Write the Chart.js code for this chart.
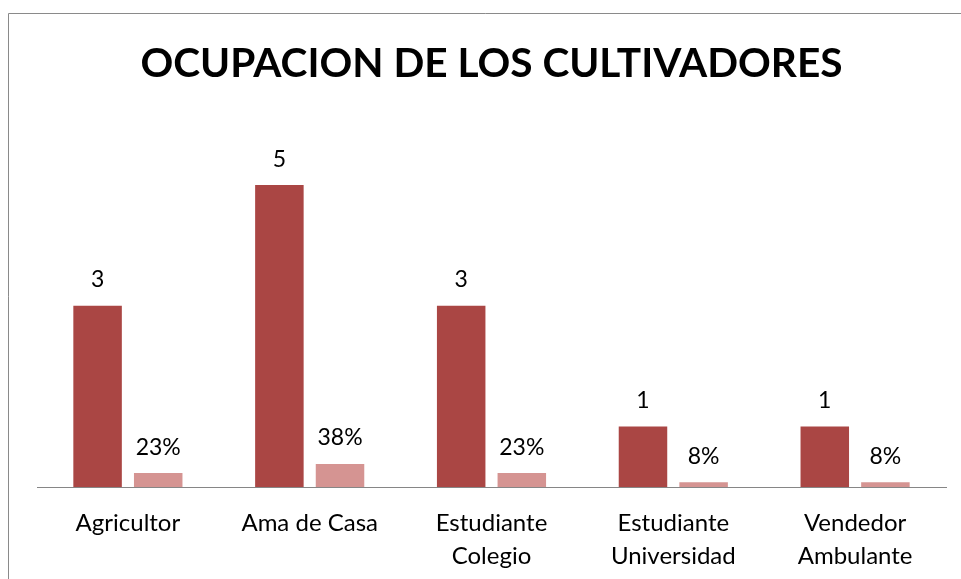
<!DOCTYPE html>
<html>
<head>
<meta charset="utf-8">
<script src="https://cdn.jsdelivr.net/npm/chart.js@4.4.1/dist/chart.umd.min.js"></script>
<style>
html,body{margin:0;padding:0;background:#fff;}
#wrap{position:relative;width:961px;height:579px;}
canvas{display:block;}
</style>
</head>
<body>
<div id="wrap"><canvas id="c" width="961" height="579"></canvas></div>
<script>
const categories = [['Agricultor'], ['Ama de Casa'], ['Estudiante', 'Colegio'], ['Estudiante', 'Universidad'], ['Vendedor', 'Ambulante']];
const counts = [3, 5, 3, 1, 1];
const percents = [0.23, 0.38, 0.23, 0.08, 0.08];
const percentLabels = ['23%', '38%', '23%', '8%', '8%'];
const titleText = 'OCUPACION DE LOS CULTIVADORES';

const FONT = 'Lato, "Open Sans", sans-serif';

const frame = {
  id: 'frame',
  beforeDraw(chart) {
    const ctx = chart.ctx;
    ctx.save();
    ctx.strokeStyle = '#8a8a8a';
    ctx.lineWidth = 1;
    ctx.beginPath();
    ctx.moveTo(8.5, 600);
    ctx.lineTo(8.5, 13.5);
    ctx.lineTo(970, 13.5);
    ctx.stroke();
    ctx.restore();
  }
};

const valueLabels = {
  id: 'valueLabels',
  afterDatasetsDraw(chart) {
    const ctx = chart.ctx;
    ctx.save();
    ctx.font = '23px ' + FONT;
    ctx.fillStyle = '#000';
    ctx.textAlign = 'center';
    ctx.textBaseline = 'middle';
    chart.data.datasets.forEach((ds, di) => {
      const meta = chart.getDatasetMeta(di);
      meta.data.forEach((el, i) => {
        const txt = di === 0 ? String(counts[i]) : percentLabels[i];
        ctx.fillText(txt, el.x, el.y - 26);
      });
    });
    ctx.restore();
  }
};

new Chart(document.getElementById('c'), {
  type: 'bar',
  data: {
    labels: categories,
    datasets: [
      { label: 'Cantidad', data: counts, backgroundColor: '#AA4644', barPercentage: 0.8, categoryPercentage: 0.667 },
      { label: 'Porcentaje', data: percents, backgroundColor: '#D59492', barPercentage: 0.8, categoryPercentage: 0.667 }
    ]
  },
  options: {
    responsive: false,
    animation: false,
    layout: { padding: { left: 37, right: 15, top: 0, bottom: 0 } },
    plugins: {
      legend: { display: false },
      tooltip: { enabled: false },
      title: {
        display: true,
        text: titleText,
        color: '#000',
        font: { family: FONT, size: 40.6, weight: 'bold', lineHeight: 1.2 },
        padding: { top: 40, bottom: 36 }
      }
    },
    scales: {
      x: {
        grid: { display: false, drawTicks: false },
        border: { display: true, color: '#868686', width: 1 },
        ticks: { color: '#000', font: { family: FONT, size: 24, lineHeight: 1.36 }, padding: 20, maxRotation: 0, autoSkip: false },
        afterFit(s) { s.height = 92; }
      },
      y: {
        display: false,
        min: 0,
        max: 6
      }
    }
  },
  plugins: [frame, valueLabels]
});
</script>
</body>
</html>
